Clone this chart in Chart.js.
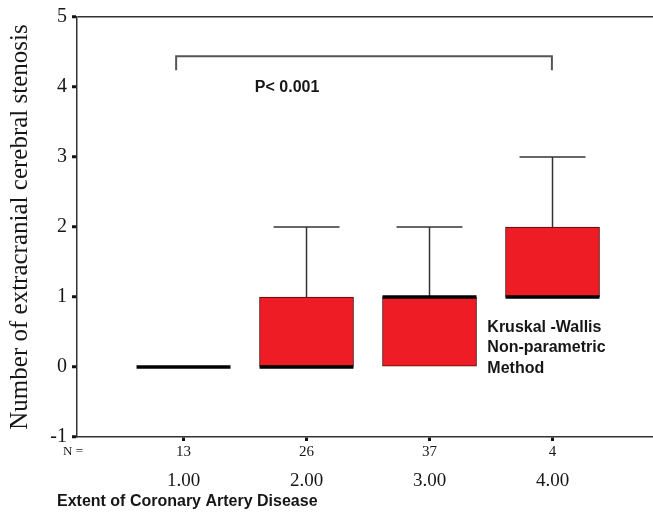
<!DOCTYPE html>
<html>
<head>
<meta charset="utf-8">
<script src="https://cdn.jsdelivr.net/npm/chart.js@4.4.0/dist/chart.umd.min.js"></script>
<style>
html, body { margin: 0; padding: 0; background: #fff; overflow: hidden; }
#wrap { width: 653px; height: 512px; position: relative; }
</style>
</head>
<body>
<div id="wrap"><canvas id="myChart"></canvas></div>
<script>
// box plot data
const positions = [1, 2, 3, 4];
const categoryLabels = ['1.00', '2.00', '3.00', '4.00'];
const counts = [13, 26, 37, 4];
const q1 = [0, 0, 0, 1];
const median = [0, 0, 1, 1];
const q3 = [0, 1, 1, 2];
const whiskerHigh = [0, 2, 2, 3];

// significance bracket between group 1 and group 4
const bracketX = [0.94, 3.995];
const bracketY = [4.24, 4.44];

const serif = '"Liberation Serif", "Times New Roman", serif';
const sans = '"Liberation Sans", Arial, sans-serif';
const ink = '#161616';

const boxHalf = 0.382;
const capHalf = 0.268;

const datasets = [];

// boxes (q1 -> q3)
datasets.push({
    type: 'bar',
    data: positions.map((p, i) => ({ x: p, y: [q1[i], q3[i]] })),
    backgroundColor: '#ee1c25',
    borderColor: '#4a0808',
    borderWidth: 1,
    borderSkipped: false,
    barThickness: 94,
    order: 3
});

// whiskers and caps
positions.forEach((p, i) => {
    if (whiskerHigh[i] > q3[i]) {
        datasets.push({
            type: 'line',
            data: [{ x: p, y: q3[i] }, { x: p, y: whiskerHigh[i] }],
            borderColor: '#333',
            borderWidth: 1.5,
            pointRadius: 0,
            order: 2
        });
        datasets.push({
            type: 'line',
            data: [{ x: p - capHalf, y: whiskerHigh[i] }, { x: p + capHalf, y: whiskerHigh[i] }],
            borderColor: '#333',
            borderWidth: 1.5,
            pointRadius: 0,
            order: 2
        });
    }
});

// medians
positions.forEach((p, i) => {
    datasets.push({
        type: 'line',
        data: [{ x: p - boxHalf, y: median[i] }, { x: p + boxHalf, y: median[i] }],
        borderColor: '#000',
        borderWidth: 3.5,
        pointRadius: 0,
        order: 1
    });
});

// bracket
datasets.push({
    type: 'line',
    data: [
        { x: bracketX[0], y: bracketY[0] },
        { x: bracketX[0], y: bracketY[1] },
        { x: bracketX[1], y: bracketY[1] },
        { x: bracketX[1], y: bracketY[0] }
    ],
    borderColor: '#555',
    borderWidth: 2,
    pointRadius: 0,
    order: 1
});

const notes = {
    id: 'notes',
    afterDraw(chart) {
        const ctx = chart.ctx;
        const x = chart.scales.x;
        const y = chart.scales.y;
        ctx.save();
        ctx.fillStyle = ink;
        ctx.textBaseline = 'middle';
        ctx.textAlign = 'left';
        ctx.font = 'bold 16px ' + sans;
        ctx.fillText('P< 0.001', x.getPixelForValue(1.58), y.getPixelForValue(3.99));
        const kw = ['Kruskal -Wallis', 'Non-parametric', 'Method'];
        kw.forEach((t, i) => {
            ctx.fillText(t, x.getPixelForValue(3.47), y.getPixelForValue(0.57) + i * 20.5);
        });
        ctx.fillText('Extent of Coronary Artery Disease', 57, 502);
        ctx.font = '13px ' + serif;
        ctx.fillText('N =', chart.chartArea.left - 14, 452);
        ctx.restore();
    }
};

const ctx = document.getElementById('myChart').getContext('2d');
const chart = new Chart(ctx, {
    type: 'bar',
    data: { datasets: datasets },
    options: {
        responsive: true,
        maintainAspectRatio: false,
        animation: false,
        layout: { padding: { top: 17, right: 0, bottom: 17, left: 0 } },
        plugins: {
            legend: { display: false },
            tooltip: { enabled: false }
        },
        scales: {
            x: {
                type: 'linear',
                position: 'bottom',
                min: 0.134,
                max: 4.817,
                offset: false,
                afterBuildTicks: s => { s.ticks = positions.map(v => ({ value: v })); },
                afterFit: s => { s.height = 21; },
                grid: {
                    offset: false,
                    drawOnChartArea: false,
                    tickLength: 4,
                    tickWidth: 3,
                    tickColor: '#111'
                },
                border: { color: '#333', width: 1.5 },
                ticks: {
                    padding: 2,
                    maxRotation: 0,
                    autoSkip: false,
                    color: ink,
                    font: { family: serif, size: 15 },
                    callback: v => {
                        const i = positions.indexOf(v);
                        return i >= 0 ? String(counts[i]) : '';
                    }
                }
            },
            xCat: {
                type: 'linear',
                position: 'bottom',
                min: 0.134,
                max: 4.817,
                offset: false,
                afterBuildTicks: s => { s.ticks = positions.map(v => ({ value: v })); },
                afterFit: s => { s.height = 37; },
                grid: { display: false, offset: false },
                border: { display: false },
                ticks: {
                    padding: 4,
                    maxRotation: 0,
                    autoSkip: false,
                    color: ink,
                    font: { family: serif, size: 19 },
                    callback: v => {
                        const i = positions.indexOf(v);
                        return i >= 0 ? categoryLabels[i] : '';
                    }
                }
            },
            y: {
                min: -1,
                max: 5,
                afterFit: s => { s.width = 77; },
                grid: {
                    drawOnChartArea: true,
                    color: c => (c.tick && c.tick.value === 5 ? '#333' : 'transparent'),
                    lineWidth: 1.5,
                    tickColor: '#111',
                    tickLength: 5,
                    tickWidth: 3
                },
                border: { color: '#333', width: 1.5 },
                ticks: {
                    stepSize: 1,
                    padding: 5,
                    color: ink,
                    font: { family: serif, size: 20 }
                },
                title: {
                    display: true,
                    text: 'Number of extracranial cerebral stenosis',
                    color: ink,
                    font: { family: serif, size: 25 },
                    padding: { top: 5, bottom: 0 }
                }
            }
        }
    },
    plugins: [notes]
});
</script>
</body>
</html>
